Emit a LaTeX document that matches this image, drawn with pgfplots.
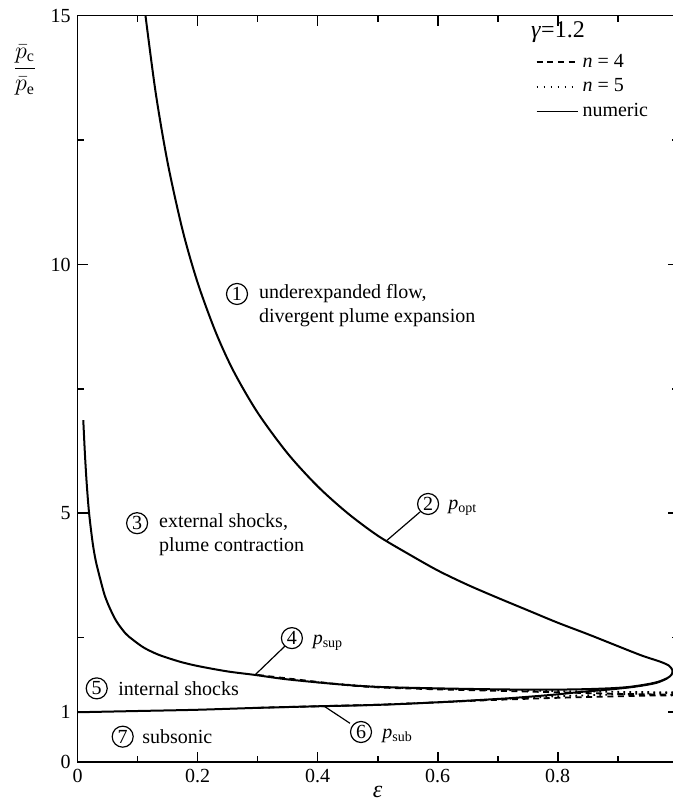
\documentclass[border=0pt]{standalone}
\usepackage{fontspec}
\setmainfont{Liberation Serif}
\usepackage{pgfplots}
\pgfplotsset{compat=1.18}
\begin{document}
\begin{tikzpicture}
\begin{axis}[
  scale only axis, width=300pt, height=373.15pt,
  xmin=0, xmax=1, ymin=0, ymax=15,
  xtick={0,0.2,0.4,0.6,0.8}, minor xtick={0.1,0.3,0.5,0.7,0.9,1},
  ytick={0,1,5,10,15}, minor ytick={2.5,7.5,12.5},
  tick align=inside, major tick length=5pt, minor tick length=3pt,
  axis line style={line width=0.8pt}, tick style={line width=0.8pt, black},
  /pgf/number format/assume math mode=true,
  ticklabel style={font=\normalsize},
  xlabel={\textit{ε}},
  xlabel style={at={(axis description cs:0.5,0)}, anchor=center, yshift=-14.8pt, font=\large},
  ylabel={$\displaystyle\frac{\bar{p}_{\mathrm{c}}}{\bar{p}_{\mathrm{e}}}$},
  ylabel style={rotate=-90, at={(axis description cs:0,0.927)}, anchor=center, xshift=-26.3pt, font=\large},
  legend style={draw=none, fill=none, at={(axis description cs:0.753,0.960)}, anchor=north west, row sep=0.3pt, font=\normalsize},
  legend cell align=left,
  legend image code/.code={\draw[#1] (0pt,0pt) -- (20.5pt,0pt);},
]
\addlegendimage{black, line width=0.8pt, dash pattern=on 3pt off 2.3pt}
\addlegendentry{\textit{n} = 4}
\addlegendimage{black, line width=0.8pt, dash pattern=on 0.8pt off 2.7pt}
\addlegendentry{\textit{n} = 5}
\addlegendimage{black, line width=0.8pt}
\addlegendentry{numeric}

% n = 4 (dashed)
\addplot[forget plot, black, line width=0.9pt, dash pattern=on 3pt off 2.3pt, smooth] coordinates {
(0.3,1.75) (0.437,1.56) (0.5,1.50) (0.6,1.46) (0.7,1.43) (0.8,1.40) (0.9,1.37) (0.95,1.36) (0.995,1.35)};
\addplot[forget plot, black, line width=0.9pt, dash pattern=on 3pt off 2.3pt, smooth] coordinates {
(0.3,1.09) (0.4,1.12) (0.5,1.15) (0.6,1.20) (0.7,1.25) (0.8,1.29) (0.9,1.32) (0.95,1.335) (0.995,1.34)};
% n = 5 (dotted)
\addplot[forget plot, black, line width=0.9pt, dash pattern=on 0.8pt off 2.2pt, smooth] coordinates {
(0.4,1.60) (0.5,1.51) (0.6,1.47) (0.7,1.445) (0.8,1.425) (0.9,1.41) (0.995,1.40)};
\addplot[forget plot, black, line width=0.9pt, dash pattern=on 0.8pt off 2.2pt, smooth] coordinates {
(0.4,1.12) (0.5,1.15) (0.6,1.20) (0.7,1.26) (0.8,1.32) (0.9,1.36) (0.995,1.39)};

% numeric: p_opt down to the nose, then p_sup back
\addplot[forget plot, black, line width=1pt, smooth, tension=0.5] coordinates {
(0.113,15.0) (0.13,13.45) (0.15,12.04) (0.175,10.68) (0.2,9.63) (0.23,8.64) (0.26,7.85)
(0.3,7.02) (0.35,6.20) (0.4,5.54) (0.45,5.00) (0.5,4.55) (0.55,4.19) (0.6,3.85)
(0.65,3.56) (0.7,3.30) (0.75,3.05) (0.8,2.80) (0.85,2.57) (0.9,2.33) (0.94,2.14)
(0.97,2.02) (0.985,1.94) (0.991,1.85)
(0.990,1.76) (0.982,1.68) (0.967,1.61) (0.948,1.56) (0.92,1.51) (0.893,1.485) (0.85,1.465)
(0.8,1.455) (0.75,1.455) (0.7,1.46) (0.6,1.48) (0.5,1.51) (0.437,1.56) (0.35,1.66)
(0.2955,1.75) (0.25,1.82) (0.204,1.92) (0.175,2.0) (0.148,2.1) (0.13,2.18) (0.11,2.3)
(0.0927,2.45) (0.08,2.58) (0.065,2.82) (0.054,3.08) (0.045,3.35) (0.036,3.75)
(0.03,4.05) (0.025,4.4) (0.019,5.0) (0.015,5.6) (0.012,6.2) (0.0093,6.87)};
% numeric: p_sub
\addplot[forget plot, black, line width=1pt, smooth, tension=0.5] coordinates {
(0,1.0) (0.1,1.025) (0.2,1.05) (0.304,1.09) (0.4,1.12) (0.504,1.15) (0.6,1.20)
(0.704,1.27) (0.75,1.31) (0.8,1.36) (0.84,1.41) (0.88,1.45) (0.92,1.50) (0.948,1.55)
(0.967,1.60) (0.982,1.68)};

% leader lines
\addplot[forget plot, black, line width=0.6pt] coordinates {(0.5705,5.025) (0.514,4.44)};
\addplot[forget plot, black, line width=0.6pt] coordinates {(0.3455,2.33) (0.2955,1.75)};
\addplot[forget plot, black, line width=0.6pt] coordinates {(0.4538,0.778) (0.4122,1.11)};

% annotations
\tikzset{cn/.style={circle, draw, line width=0.6pt, minimum size=10.5pt, inner sep=0pt, font=\fontsize{10}{10}\selectfont}}
\node[cn] at (axis cs:0.2655,9.407) {1};
\node[anchor=west, align=left] at (axis cs:0.2905,9.166) {underexpanded flow,\\divergent plume expansion};
\node[cn] at (axis cs:0.584,5.186) {2};
\node[anchor=west] at (axis cs:0.606,5.1) {\textit{p}\textsubscript{opt}};
\node[cn] at (axis cs:0.099,4.80) {3};
\node[anchor=west, align=left] at (axis cs:0.124,4.56) {external shocks,\\plume contraction};
\node[cn] at (axis cs:0.357,2.49) {4};
\node[anchor=west] at (axis cs:0.38,2.4) {\textit{p}\textsubscript{sup}};
\node[cn] at (axis cs:0.0317,1.48) {5};
\node[anchor=west] at (axis cs:0.056,1.48) {internal shocks};
\node[cn] at (axis cs:0.4722,0.603) {6};
\node[anchor=west] at (axis cs:0.496,0.52) {\textit{p}\textsubscript{sub}};
\node[cn] at (axis cs:0.075,0.509) {7};
\node[anchor=west] at (axis cs:0.096,0.509) {subsonic};
\node[font=\large] at (axis cs:0.8005,14.67) {\textit{γ}=1.2};

\coordinate (bl) at (rel axis cs:0,0);
\coordinate (tr) at (rel axis cs:1,1);
\end{axis}
\pgfresetboundingbox
\path[use as bounding box] ([xshift=-38.85pt,yshift=-21pt]bl) rectangle ([xshift=-2.35pt,yshift=7.85pt]tr);
\end{tikzpicture}
\end{document}
